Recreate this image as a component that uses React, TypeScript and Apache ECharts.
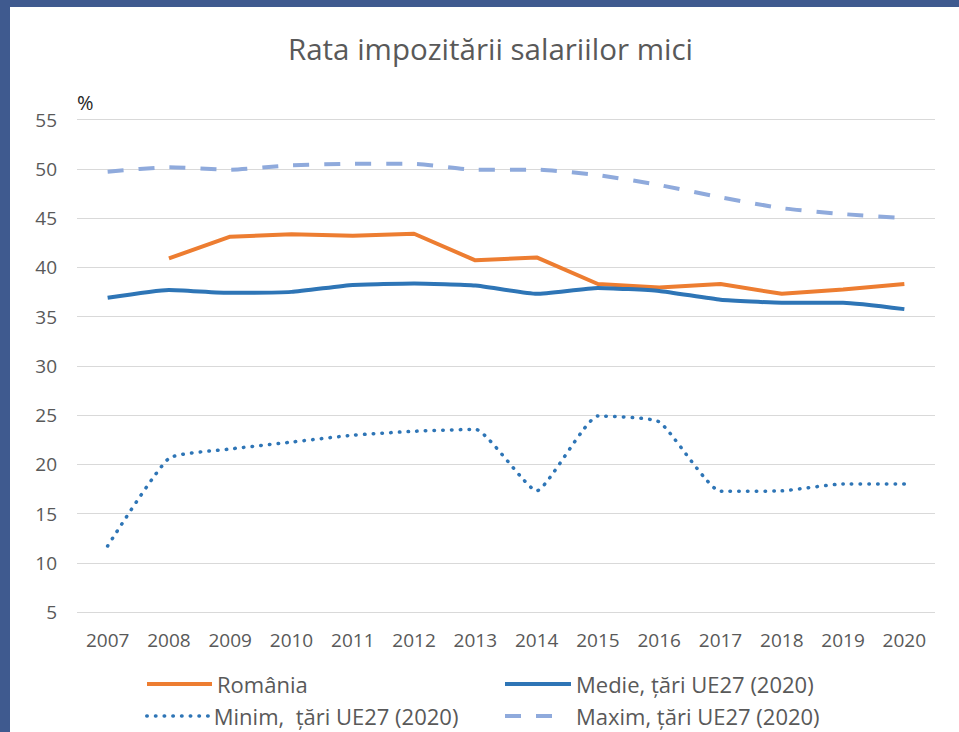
import React, { useEffect, useRef } from "react";
import * as echarts from "echarts";

const years = ["2007","2008","2009","2010","2011","2012","2013","2014","2015","2016","2017","2018","2019","2020"];
const romania = [null, 40.9, 43.1, 43.35, 43.2, 43.4, 40.7, 41.0, 38.3, 37.95, 38.3, 37.3, 37.75, 38.3];
const medie = [36.9, 37.7, 37.4, 37.5, 38.2, 38.35, 38.15, 37.3, 37.9, 37.6, 36.7, 36.4, 36.4, 35.75];
const minim = [11.7, 20.6, 21.55, 22.25, 22.95, 23.35, 23.55, 17.3, 24.9, 24.3, 17.25, 17.3, 18.0, 18.0];
const maxim = [49.7, 50.15, 49.9, 50.35, 50.5, 50.5, 49.9, 49.9, 49.35, 48.35, 47.1, 46.0, 45.4, 45.0];
const names = ["România", "Medie, țări UE27 (2020)", "Minim,  țări UE27 (2020)", "Maxim, țări UE27 (2020)"];

const FONT = "Open Sans";

export default function App() {
  const ref = useRef<HTMLDivElement>(null);
  useEffect(() => {
    if (!ref.current) return;
    const chart = echarts.init(ref.current, null, { renderer: "svg" });
    const mkLegend = (name: string, left: number, top: number, w: number, lw: number, padLeft: number) => ({
      data: [name],
      left,
      top,
      padding: 0,
      itemWidth: w,
      itemHeight: 14,
      itemStyle: { opacity: 0 },
      lineStyle: { width: lw },
      textStyle: { color: "#595959", fontSize: 22, fontFamily: FONT, lineHeight: 22, padding: [0, 0, 0, padLeft] },
      selectedMode: false,
    });
    chart.setOption({
      animation: false,
      backgroundColor: "#ffffff",
      title: {
        text: "Rata impozitării salariilor mici",
        left: 283,
        top: 25,
        textStyle: { color: "#595959", fontSize: 29.5, fontWeight: "normal", fontFamily: FONT, lineHeight: 36 },
      },
      graphic: [
        { type: "rect", shape: { x: 0, y: 0, width: 959, height: 7 }, style: { fill: "#3f5a8f" }, silent: true },
        { type: "rect", shape: { x: 0, y: 0, width: 10, height: 732 }, style: { fill: "#3f5a8f" }, silent: true },
        {
          type: "text",
          x: 77,
          y: 102,
          style: { text: "%", fontSize: 20, fontFamily: FONT, fill: "#262626", verticalAlign: "middle" },
        },
      ],
      legend: [
        mkLegend(names[0], 145, 673, 65, 4, 0),
        mkLegend(names[2], 145, 705, 62, 3.5, 0),
        mkLegend(names[1], 503, 673, 66, 4, 0),
        mkLegend(names[3], 503, 705, 50, 4, 16),
      ],
      grid: { left: 77, right: 24, top: 119.5, bottom: 120, containLabel: false },
      xAxis: {
        type: "category",
        data: years,
        boundaryGap: true,
        axisLine: { show: false },
        axisTick: { show: false },
        axisLabel: { color: "#595959", fontSize: 19, fontFamily: FONT, margin: 18 },
      },
      yAxis: {
        type: "value",
        min: 5,
        max: 55,
        interval: 5,
        axisLine: { show: false },
        axisTick: { show: false },
        axisLabel: { color: "#595959", fontSize: 19, fontFamily: FONT, margin: 20 },
        splitLine: { lineStyle: { color: "#d9d9d9", width: 1 } },
      },
      series: [
        {
          name: names[0],
          type: "line",
          data: romania,
          symbol: "none",
          lineStyle: { color: "#ED7D31", width: 4 },
          itemStyle: { color: "#ED7D31", opacity: 0 },
          connectNulls: false,
        },
        {
          name: names[1],
          type: "line",
          data: medie,
          symbol: "none",
          smooth: 0.15,
          lineStyle: { color: "#2E75B6", width: 4 },
          itemStyle: { color: "#2E75B6", opacity: 0 },
        },
        {
          name: names[2],
          type: "line",
          data: minim,
          symbol: "none",
          smooth: 0.15,
          lineStyle: { color: "#2E75B6", width: 3.5, type: [0.5, 8.2], cap: "round" },
          itemStyle: { color: "#2E75B6", opacity: 0 },
        },
        {
          name: names[3],
          type: "line",
          data: maxim,
          symbol: "none",
          smooth: 0.2,
          lineStyle: { color: "#8FAADC", width: 4, type: [16, 15] },
          itemStyle: { color: "#8FAADC", opacity: 0 },
        },
      ],
    });
    return () => chart.dispose();
  }, []);
  return <div ref={ref} style={{ position: "fixed", left: 0, top: 0, width: 959, height: 732 }} />;
}
